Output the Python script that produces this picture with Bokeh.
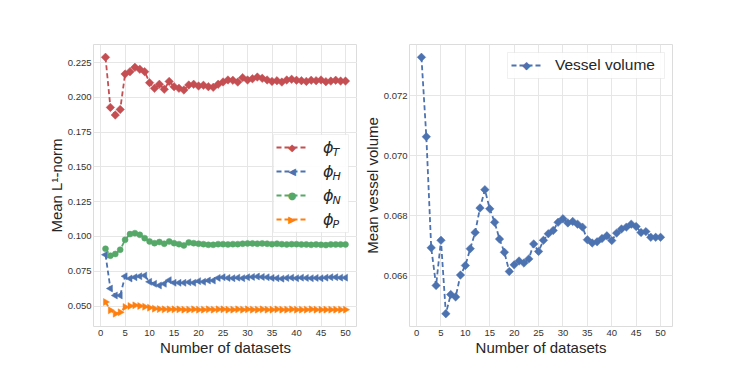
import numpy as np
from bokeh.plotting import figure
from bokeh.layouts import row
from bokeh.models import (Range1d, FixedTicker, Legend, LegendItem, Label,
                          NumeralTickFormatter, BoxAnnotation)
from bokeh.embed import file_html
from bokeh.resources import INLINE

# ---------------- data ----------------
n_datasets = list(range(1, 51))

phi_T = [0.2288, 0.1928, 0.1873, 0.1913, 0.2168, 0.2185, 0.2216, 0.2202, 0.2185, 0.2106,
         0.2065, 0.2094, 0.2058, 0.2115, 0.2077, 0.2065, 0.2053, 0.2089, 0.2094, 0.2082,
         0.2087, 0.2077, 0.2072, 0.2094, 0.2111, 0.2125, 0.2123, 0.2110, 0.2142, 0.2125,
         0.2134, 0.2146, 0.2137, 0.2125, 0.2115, 0.2120, 0.2110, 0.2125, 0.2130, 0.2123,
         0.2120, 0.2115, 0.2123, 0.2120, 0.2125, 0.2113, 0.2117, 0.2123, 0.2117, 0.2117]

phi_H = [0.0869, 0.0626, 0.0576, 0.0576, 0.0714, 0.0698, 0.0707, 0.0714, 0.0719, 0.0674,
         0.0660, 0.0648, 0.0660, 0.0686, 0.0667, 0.0667, 0.0667, 0.0671, 0.0667, 0.0679,
         0.0674, 0.0683, 0.0683, 0.0702, 0.0707, 0.0702, 0.0700, 0.0704, 0.0700, 0.0707,
         0.0709, 0.0712, 0.0709, 0.0707, 0.0702, 0.0700, 0.0697, 0.0702, 0.0704, 0.0700,
         0.0704, 0.0702, 0.0700, 0.0702, 0.0700, 0.0704, 0.0707, 0.0707, 0.0704, 0.0704]

phi_N = [0.0912, 0.0862, 0.0874, 0.0905, 0.0976, 0.1017, 0.1024, 0.1012, 0.0988, 0.0964,
         0.0952, 0.0960, 0.0948, 0.0964, 0.0952, 0.0945, 0.0936, 0.0957, 0.0952, 0.0948,
         0.0945, 0.0940, 0.0940, 0.0945, 0.0945, 0.0943, 0.0945, 0.0945, 0.0948, 0.0950,
         0.0950, 0.0948, 0.0950, 0.0948, 0.0945, 0.0948, 0.0945, 0.0943, 0.0945, 0.0945,
         0.0943, 0.0943, 0.0940, 0.0943, 0.0940, 0.0938, 0.0943, 0.0943, 0.0943, 0.0943]

phi_P = [0.0529, 0.0469, 0.0445, 0.0455, 0.0493, 0.0500, 0.0505, 0.0500, 0.0495, 0.0488,
         0.0481, 0.0478, 0.0476, 0.0476, 0.0476, 0.0476, 0.0474, 0.0474, 0.0476, 0.0474,
         0.0474, 0.0476, 0.0474, 0.0476, 0.0476, 0.0474, 0.0474, 0.0476, 0.0474, 0.0476,
         0.0474, 0.0474, 0.0476, 0.0474, 0.0474, 0.0476, 0.0474, 0.0474, 0.0476, 0.0474,
         0.0474, 0.0474, 0.0476, 0.0474, 0.0474, 0.0474, 0.0474, 0.0474, 0.0474, 0.0474]

vessel_volume = [0.07329, 0.07064, 0.06693, 0.06567, 0.06718, 0.06473, 0.06537, 0.06529, 0.06602, 0.06634,
                 0.06690, 0.06744, 0.06826, 0.06887, 0.06823, 0.06778, 0.06722, 0.06678, 0.06614, 0.06636,
                 0.06649, 0.06642, 0.06656, 0.06706, 0.06681, 0.06718, 0.06740, 0.06751, 0.06778, 0.06790,
                 0.06776, 0.06781, 0.06772, 0.06762, 0.06720, 0.06709, 0.06713, 0.06724, 0.06733, 0.06717,
                 0.06742, 0.06756, 0.06762, 0.06772, 0.06764, 0.06744, 0.06747, 0.06728, 0.06728, 0.06728]

x_ticks = [0, 5, 10, 15, 20, 25, 30, 35, 40, 45, 50]
left_y_ticks = [0.050, 0.075, 0.100, 0.125, 0.150, 0.175, 0.200, 0.225]
right_y_ticks = [0.066, 0.068, 0.070, 0.072]

# name, values, colour, bokeh marker, angle, size, legend symbol
left_series = [("T", phi_T, "#C44E52", "square", np.pi / 4, 6.0, "◆"),
               ("H", phi_H, "#4C72B0", "triangle", np.pi / 2, 7.0, "◀"),
               ("N", phi_N, "#55A868", "circle", 0.0, 6.0, "●"),
               ("P", phi_P, "#FF7F0E", "triangle", -np.pi / 2, 7.0, "▶")]

TEXT = "#262626"
FONT = "Liberation Sans"


def padded(lo, hi, frac=0.05):
    pad = (hi - lo) * frac
    return Range1d(lo - pad, hi + pad)


def style(p, xlabel, ylabel, yticks):
    p.xaxis.ticker = FixedTicker(ticks=x_ticks)
    p.yaxis.ticker = FixedTicker(ticks=yticks)
    p.yaxis.formatter = NumeralTickFormatter(format="0.000")
    for ax in p.axis:
        ax.major_tick_line_color = None
        ax.minor_tick_line_color = None
        ax.major_tick_out = 0
        ax.major_tick_in = 0
        ax.minor_tick_out = 0
        ax.minor_tick_in = 0
        ax.axis_line_color = None
        ax.major_label_text_font = FONT
        ax.major_label_text_font_size = "9.5px"
        ax.major_label_text_color = "#333333"
        ax.axis_label_text_font = FONT
        ax.axis_label_text_font_size = "15px"
        ax.axis_label_text_font_style = "normal"
        ax.axis_label_text_color = TEXT
        ax.axis_label_standoff = 0
    p.xaxis.major_label_standoff = 3
    p.yaxis.major_label_standoff = 2
    p.xaxis.axis_label = xlabel
    p.yaxis.axis_label = ylabel
    p.grid.grid_line_color = "#e6e6e6"
    p.grid.grid_line_width = 1
    p.outline_line_color = "#dcdcdc"
    p.background_fill_color = "white"
    p.border_fill_color = "white"


def legend_box(p, left, bottom, width, height):
    p.add_layout(BoxAnnotation(left=left, right=left + width, bottom=bottom, top=bottom + height,
                               left_units="screen", right_units="screen",
                               bottom_units="screen", top_units="screen",
                               fill_color="white", fill_alpha=0.92,
                               line_color="#cccccc", line_width=1, level="underlay"))


# ---------------- left figure ----------------
all_left = phi_T + phi_H + phi_N + phi_P
p1 = figure(width=357, height=366, output_backend="svg", toolbar_location=None,
            x_range=padded(min(n_datasets), max(n_datasets)),
            y_range=padded(min(all_left), max(all_left)),
            min_border_left=93, min_border_right=0, min_border_top=44, min_border_bottom=40)
style(p1, "Number of datasets", "Mean L¹-norm", left_y_ticks)

# legend geometry (screen px, relative to frame bottom-left)
L1_X, L1_Y, L1_PAD, L1_GW, L1_H, L1_SP = 180, 94, 3, 31, 20, 4
L1_HEIGHT = 2 * L1_PAD + 4 * L1_H + 3 * L1_SP
L1_TOP = L1_Y + L1_HEIGHT
legend_box(p1, L1_X, L1_Y, 75, L1_HEIGHT)

items = []
for i, (name, vals, col, marker, ang, sz, sym) in enumerate(left_series):
    ln = p1.line(n_datasets, vals, line_color=col, line_width=1.8, line_dash="5 3")
    p1.scatter(n_datasets, vals, marker=marker, angle=ang, size=sz,
               fill_color=col, line_color=col, line_width=0.5)
    items.append(LegendItem(label="ϕ", renderers=[ln]))

leg1 = Legend(items=items, location=(L1_X, L1_Y), margin=0, padding=L1_PAD, spacing=L1_SP,
              glyph_width=L1_GW, glyph_height=L1_H, label_height=L1_H, label_width=24,
              label_standoff=16, label_text_font="DejaVu Sans",
              label_text_font_style="italic", label_text_font_size="16px",
              label_text_color=TEXT, border_line_alpha=0, background_fill_alpha=0)
p1.add_layout(leg1)

for i, (name, vals, col, marker, ang, sz, sym) in enumerate(left_series):
    cy = L1_TOP - L1_PAD - L1_H / 2 - i * (L1_H + L1_SP)
    p1.add_layout(Label(x=L1_X + L1_PAD + L1_GW / 2, y=cy, x_units="screen", y_units="screen",
                        text=sym, text_font="DejaVu Sans", text_font_size="10px",
                        text_align="center", text_baseline="middle", text_color=col))
    p1.add_layout(Label(x=239, y=cy - 5, x_units="screen", y_units="screen",
                        text=name, text_font="DejaVu Sans", text_font_style="italic",
                        text_font_size="11px", text_baseline="alphabetic",
                        text_color=TEXT))

# ---------------- right figure ----------------
p2 = figure(width=325, height=366, output_backend="svg", toolbar_location=None,
            x_range=padded(min(n_datasets), max(n_datasets)),
            y_range=padded(min(vessel_volume), max(vessel_volume)),
            min_border_left=52, min_border_right=10, min_border_top=44, min_border_bottom=40)
style(p2, "Number of datasets", "Mean vessel volume", right_y_ticks)

vcol = "#4C72B0"
L2_X, L2_Y, L2_PAD, L2_GW, L2_H = 98, 248, 4, 30, 18
legend_box(p2, L2_X, L2_Y, 157, 2 * L2_PAD + L2_H)

ln2 = p2.line(n_datasets, vessel_volume, line_color=vcol, line_width=1.8, line_dash="5 3")
p2.scatter(n_datasets, vessel_volume, marker="square", angle=np.pi / 4, size=6,
           fill_color=vcol, line_color=vcol, line_width=0.5)

leg2 = Legend(items=[LegendItem(label="Vessel volume", renderers=[ln2])],
              location=(L2_X, L2_Y), margin=0, padding=L2_PAD,
              glyph_width=L2_GW, glyph_height=L2_H, label_height=L2_H, label_standoff=14,
              label_text_font=FONT, label_text_font_size="15.5px", label_text_color=TEXT,
              border_line_alpha=0, background_fill_alpha=0)
p2.add_layout(leg2)
p2.add_layout(Label(x=L2_X + L2_PAD + L2_GW / 2, y=L2_Y + L2_PAD + L2_H / 2,
                    x_units="screen", y_units="screen", text="◆", text_font="DejaVu Sans",
                    text_font_size="11px", text_align="center", text_baseline="middle",
                    text_color=vcol))

layout = row(p1, p2)
open("out.html", "w").write(file_html(layout, INLINE))
